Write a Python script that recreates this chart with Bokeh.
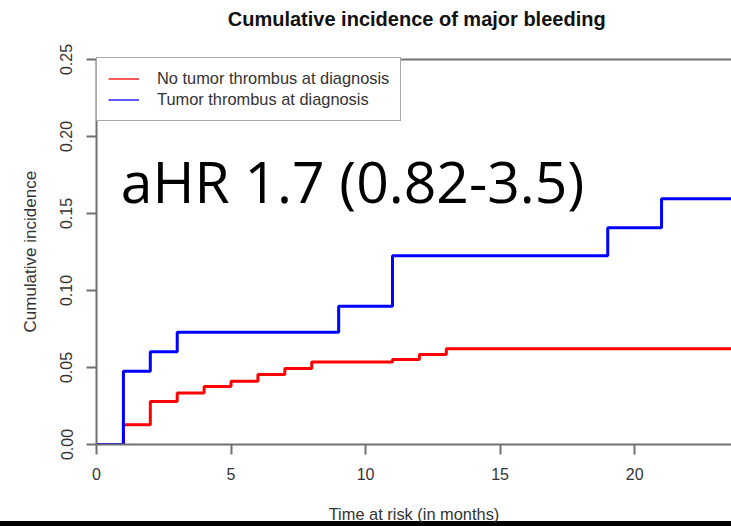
import math
from bokeh.plotting import figure
from bokeh.models import (Span, Label, Legend, LegendItem, FixedTicker,
                          NumeralTickFormatter, Range1d, InlineStyleSheet, Title)
from bokeh.embed import file_html
from bokeh.resources import INLINE

# ---- data ----
no_thrombus_time = [0, 1, 2, 3, 4, 5, 6, 7, 8, 11, 12, 13, 24]
no_thrombus_cif = [0.0, 0.0128, 0.0279, 0.0335, 0.0377, 0.0411, 0.0455,
                   0.0494, 0.0535, 0.0552, 0.0584, 0.0622, 0.0622]
thrombus_time = [0, 1, 2, 3, 9, 11, 19, 21, 24]
thrombus_cif = [0.0, 0.0476, 0.0602, 0.0729, 0.0898, 0.1225, 0.1407, 0.1595, 0.1595]

x_ticks = [0, 5, 10, 15, 20]
y_ticks = [0.0, 0.05, 0.10, 0.15, 0.20, 0.25]

title_text = "Cumulative incidence of major bleeding"
x_label = "Time at risk (in months)"
y_label = "Cumulative incidence"
legend_labels = ["No tumor thrombus at diagnosis", "Tumor thrombus at diagnosis"]
annotation = "aHR 1.7 (0.82-3.5)"

RED = "#ff0000"
BLUE = "#0000ff"
AXIS = "#707070"
TXT = "#333333"
FONT = "Liberation Sans"

W, H = 731, 526
p = figure(width=W, height=H, output_backend="svg", toolbar_location=None,
           x_range=Range1d(0, 23.6), y_range=Range1d(0, 0.2883),
           min_border_left=95, min_border_right=0, min_border_top=0,
           min_border_bottom=82)
p.outline_line_color = None
p.xgrid.visible = False
p.ygrid.visible = False
p.background_fill_color = "white"
p.border_fill_color = None
# black slide edge along the bottom of the picture
p.stylesheets = [InlineStyleSheet(
    css=":host { background-color: white; box-shadow: inset 0 -5px 0 0 black; }")]

# axes
for ax in (p.xaxis[0], p.yaxis[0]):
    ax.axis_line_color = AXIS
    ax.axis_line_width = 2
    ax.major_tick_line_color = AXIS
    ax.major_tick_line_width = 2
    ax.major_tick_out = 10
    ax.major_tick_in = 0
    ax.minor_tick_line_color = None
    ax.major_label_text_font = FONT
    ax.major_label_text_font_size = "16px"
    ax.major_label_text_color = TXT
    ax.axis_label_text_font = FONT
    ax.axis_label_text_font_style = "normal"
    ax.axis_label_text_color = TXT

p.xaxis.ticker = FixedTicker(ticks=x_ticks)
p.xaxis.major_label_standoff = 13
p.xaxis.axis_label = x_label
p.xaxis.axis_label_text_font_size = "16.4px"
p.xaxis.axis_label_standoff = 22

p.yaxis.bounds = (0, 0.25)
p.yaxis.ticker = FixedTicker(ticks=y_ticks)
p.yaxis.formatter = NumeralTickFormatter(format="0.00")
p.yaxis.major_label_orientation = "vertical"
p.yaxis.major_label_standoff = 14

# y axis title as a left-side title, anchored at its start (bottom)
p.add_layout(Title(text=y_label, align="left", offset=112, standoff=36,
                   text_font=FONT, text_font_size="17px",
                   text_font_style="normal", text_color=TXT), "left")

# top box line
p.add_layout(Span(location=0.25, dimension="width", line_color=AXIS, line_width=2))

# curves
r_red = p.step(no_thrombus_time, no_thrombus_cif, mode="after", line_color=RED, line_width=3)
r_blue = p.step(thrombus_time, thrombus_cif, mode="after", line_color=BLUE, line_width=3)

# legend (thin line glyphs; renderers kept outside the visible ranges)
lg_red = p.line([-5, -4], [-1, -1], line_color=RED, line_width=1.3)
lg_blue = p.line([-5, -4], [-1, -1], line_color=BLUE, line_width=1.3)
legend = Legend(items=[LegendItem(label=legend_labels[0], renderers=[lg_red]),
                       LegendItem(label=legend_labels[1], renderers=[lg_blue])],
                location=(0, 323), margin=0, padding=11, spacing=2,
                glyph_width=31, glyph_height=19, label_height=19, label_standoff=18,
                label_text_font=FONT, label_text_font_size="16.4px",
                label_text_color=TXT, border_line_color="#555555",
                border_line_width=1.5, background_fill_alpha=1.0)
p.add_layout(legend)

# title (inside the frame, above the box line)
p.add_layout(Label(x=11.9, y=0.2766, text=title_text, text_font=FONT,
                   text_font_size="20px", text_font_style="bold",
                   text_color="#111111", text_align="center",
                   text_baseline="middle"))

# big annotation
p.add_layout(Label(x=0.9, y=0.171, text=annotation, text_font="Open Sans",
                   text_font_size="57px", text_color="black",
                   text_align="left", text_baseline="alphabetic"))

open("out.html", "w").write(file_html(p, INLINE))
